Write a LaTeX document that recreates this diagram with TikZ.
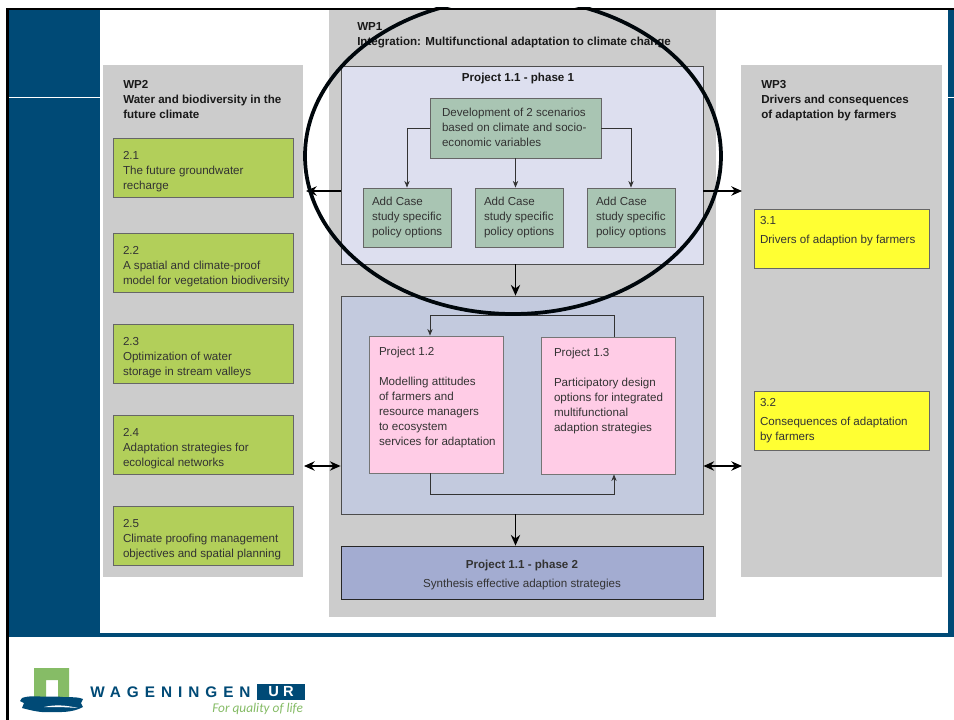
\documentclass[tikz,border=0pt]{standalone}
\usepackage{fontspec}
\setmainfont{Liberation Sans}
\newfontfamily\logofont[LetterSpace=39]{Liberation Sans Bold}
\newfontfamily\urfont[LetterSpace=28]{Liberation Sans Bold}
\newfontfamily\sloganfont{Carlito Italic}
\usetikzlibrary{arrows.meta,calc}
\definecolor{wurblue}{HTML}{004A76}
\definecolor{panelgray}{HTML}{CCCCCC}
\definecolor{lavender}{HTML}{DDDFEF}
\definecolor{sage}{HTML}{A9C5B3}
\definecolor{steel}{HTML}{C3CADE}
\definecolor{pinkbox}{HTML}{FFCCE6}
\definecolor{periw}{HTML}{A3ACD1}
\definecolor{lime}{HTML}{B2CF5A}
\definecolor{yell}{HTML}{FFFF33}
\definecolor{logogreen}{HTML}{86BC66}
\definecolor{edgegray}{HTML}{666666}
\definecolor{txt}{HTML}{333333}
\tikzset{
  panel/.style={fill=panelgray,draw=none,inner sep=0pt},
  boxbase/.style={draw=edgegray,line width=0.6pt,inner sep=0pt,text=txt},
  wpbox/.style={boxbase,draw=black!70,fill=lavender},
  scen/.style={boxbase,fill=sage},
  innerbox/.style={boxbase,draw=black!70,fill=steel},
  pinkb/.style={boxbase,draw=edgegray!90,fill=pinkbox},
  synth/.style={boxbase,draw=black!85,fill=periw},
  limeb/.style={boxbase,fill=lime},
  yellb/.style={boxbase,fill=yell},
  head/.style={inner sep=0pt,anchor=north west,align=left,text=black!90,font=\bfseries\fontsize{8.7}{11.25}\selectfont},
  thin arrow/.style={draw=black!80,line width=0.6pt,-{Stealth[length=5pt,width=4pt]}},
  thick arrow/.style={draw=black,line width=1.2pt,-{Stealth[length=8pt,width=7pt]}},
  both arrow/.style={draw=black,line width=1.2pt,{Stealth[length=8pt,width=7pt]}-{Stealth[length=8pt,width=7pt]}},
}
\def\push{0pt}
% style, name, x1, y1, x2, y2, left padding, lines
\newcommand\pbox[8]{%
  \pgfmathsetmacro\bw{(#5-#3)*0.75}%
  \pgfmathsetmacro\bh{(#6-#4)*0.75}%
  \pgfmathsetmacro\bp{#7*0.75}%
  \pgfmathsetmacro\bt{\bw-\bp}%
  \node[#1,minimum width=\bw pt,minimum height=\bh pt] (#2) at ({(#3+#5)/2},{(#4+#6)/2})
    {\hspace*{\bp pt}\begin{minipage}{\bt pt}\vspace*{\push}\raggedright\fontsize{8.7}{11.25}\selectfont\strut #8\strut\end{minipage}};%
}
\begin{document}
\begin{tikzpicture}[x=0.75pt,y=-0.75pt]
\useasboundingbox (0,0) rectangle (954,720);
\fill[white] (0,0) rectangle (954,720);
% slide furniture
\fill[wurblue] (8,8) rectangle (100,635);
\fill[wurblue] (948,8) rectangle (954,635);
\fill[wurblue] (8,633) rectangle (954,636.5);
\fill[white] (8,96.7) rectangle (100,97.7);
\fill[white] (948,96.7) rectangle (954,97.7);
% grey work package panels
\node[panel,minimum width=290.25pt,minimum height=456pt] (wp1) at (522.5,313) {};
\node[panel,minimum width=150pt,minimum height=384pt] (wp2) at (203,321) {};
\node[panel,minimum width=150.75pt,minimum height=384pt] (wp3) at (841.5,321) {};
\node[head] (wp1t) at (357,22.5) {WP1\\Integration: Multifunctional adaptation to climate change};
\node[head] (wp2t) at (123,80.5) {WP2\\Water and biodiversity in the\\future climate};
\node[head] (wp3t) at (761,80.5) {WP3\\Drivers and consequences\\of adaptation by farmers};
% WP1 boxes
\pbox{wpbox}{p11}{341}{66}{703}{264}{0}{}
\node[inner sep=0pt,font=\bfseries\fontsize{8.7}{11}\selectfont,text=black!90] (p11t) at (518,79) {Project 1.1 - phase 1};
\def\push{1.5pt}
\pbox{scen}{dev}{430}{98}{601}{158}{12}{Development of 2 scenarios\\based on climate and socio-\\economic variables}
\def\push{0pt}
\pbox{scen}{c1}{363}{188}{451}{247}{9}{Add Case\\study specific\\policy options}
\pbox{scen}{c2}{475}{188}{563}{247}{9}{Add Case\\study specific\\policy options}
\pbox{scen}{c3}{587}{188}{675}{247}{9}{Add Case\\study specific\\policy options}
\pbox{innerbox}{p2}{341}{296}{703}{514}{0}{}
\def\push{1.5pt}
\pbox{pinkb}{p12}{369}{336}{503}{473}{10}{Project 1.2\\[11.25pt]Modelling attitudes\\of farmers and\\resource managers\\to ecosystem\\services for adaptation\\~}
\pbox{pinkb}{p13}{541}{337}{675}{474}{13}{Project 1.3\\[11.25pt]Participatory design\\options for integrated\\multifunctional\\adaption strategies\\~\\~}
\def\push{0pt}
\node[synth,minimum width=271.5pt,minimum height=39.75pt,align=center] (p3) at (522,572.5)
  {\rule{0pt}{9.5pt}{\bfseries\fontsize{8.7}{11}\selectfont Project 1.1 - phase 2}\\[2.4pt]{\fontsize{8.7}{11}\selectfont Synthesis effective adaption strategies}};
% WP2 boxes
\def\push{6pt}
\pbox{limeb}{a1}{113}{138}{293}{197}{10}{2.1\\The future groundwater\\recharge}
\pbox{limeb}{a2}{113}{233}{293}{292}{10}{2.2\\A spatial and climate-proof\\model for vegetation biodiversity}
\pbox{limeb}{a3}{113}{324}{293}{383}{10}{2.3\\Optimization of water\\storage in stream valleys}
\pbox{limeb}{a4}{113}{415}{293}{474}{10}{2.4\\Adaptation strategies for\\ecological networks}
\pbox{limeb}{a5}{113}{506}{293}{565}{10}{2.5\\Climate proofing management\\objectives and spatial planning}
% WP3 boxes
\def\push{0pt}
\pbox{yellb}{b1}{754}{209}{929}{268}{6}{3.1\\[3pt]Drivers of adaption by farmers\\~}
\pbox{yellb}{b2}{754}{391}{929}{450}{6}{3.2\\[3pt]Consequences of adaptation\\by farmers}
% connectors
\coordinate (la) at (430,0);
\coordinate (rb) at (614,0);
\draw[thin arrow] (dev.west) -| (c1.north);
\draw[thin arrow] (dev.south) -- (dev.south |- c2.north);
\draw[thin arrow] (dev.east) -| (c3.north);
\draw[thin arrow] (p13.north -| rb) -- (rb |- 0,315) -| (p12.north -| la);
\draw[thin arrow] (p12.south -| la) -- (la |- 0,494) -| (p13.south -| rb);
\draw[thick arrow] (p11.south -| dev.south) -- (p2.north -| dev.south);
\draw[thick arrow] (p2.south -| dev.south) -- (p3.north -| dev.south);
\coordinate (lfree) at (306,191);
\coordinate (rfree) at (742,191);
\coordinate (lfree2) at (304,466);
\coordinate (rfree2) at (742,466);
\draw[thick arrow] (p11.west |- lfree) -- (lfree);
\draw[thick arrow] (p11.east |- rfree) -- (rfree);
\draw[both arrow] (lfree2) -- (p2.west |- lfree2);
\draw[both arrow] (p2.east |- rfree2) -- (rfree2);
% hand-drawn ellipse
\begin{scope}
  \clip (0,8) rectangle (954,720);
  \draw[black!90!wurblue,line width=2.8pt] (513,156) ellipse [x radius=156pt,y radius=118.5pt];
\end{scope}
% frame
\fill[black] (6,8) rectangle (954,10);
\fill[black] (6,8) rectangle (8.5,720);
% logo
\fill[logogreen,even odd rule] (34,668) rectangle (69,700) (46,680) rectangle (58,700);
\fill[wurblue] (22,698) .. controls (30,695) and (40,697) .. (46,696.5) -- (58,696.5)
  .. controls (66,698) and (76,696) .. (83,699) -- (81,703) -- (83,707) .. controls (72,713) and (60,712) .. (50,712)
  .. controls (40,713) and (30,710) .. (22,708) -- (24,703) -- (20,701) -- cycle;
\fill[white] (44,707) .. controls (55,704.5) and (65,705) .. (78,708) .. controls (65,707) and (55,707) .. (44,707) -- cycle;
\node[inner sep=0pt,anchor=west,text=wurblue,font=\logofont\fontsize{11.5}{12}\selectfont] (wag) at (90,692) {WAGENINGEN};
\node[fill=wurblue,text=white,inner sep=0pt,minimum width=36pt,minimum height=12pt,font=\urfont\fontsize{11}{12}\selectfont] (ur) at (281,692) {UR};
\node[inner sep=0pt,anchor=west,text=logogreen,font=\sloganfont\fontsize{10}{12}\selectfont] (slogan) at (212,708.5) {For quality of life};
\end{tikzpicture}
\end{document}
